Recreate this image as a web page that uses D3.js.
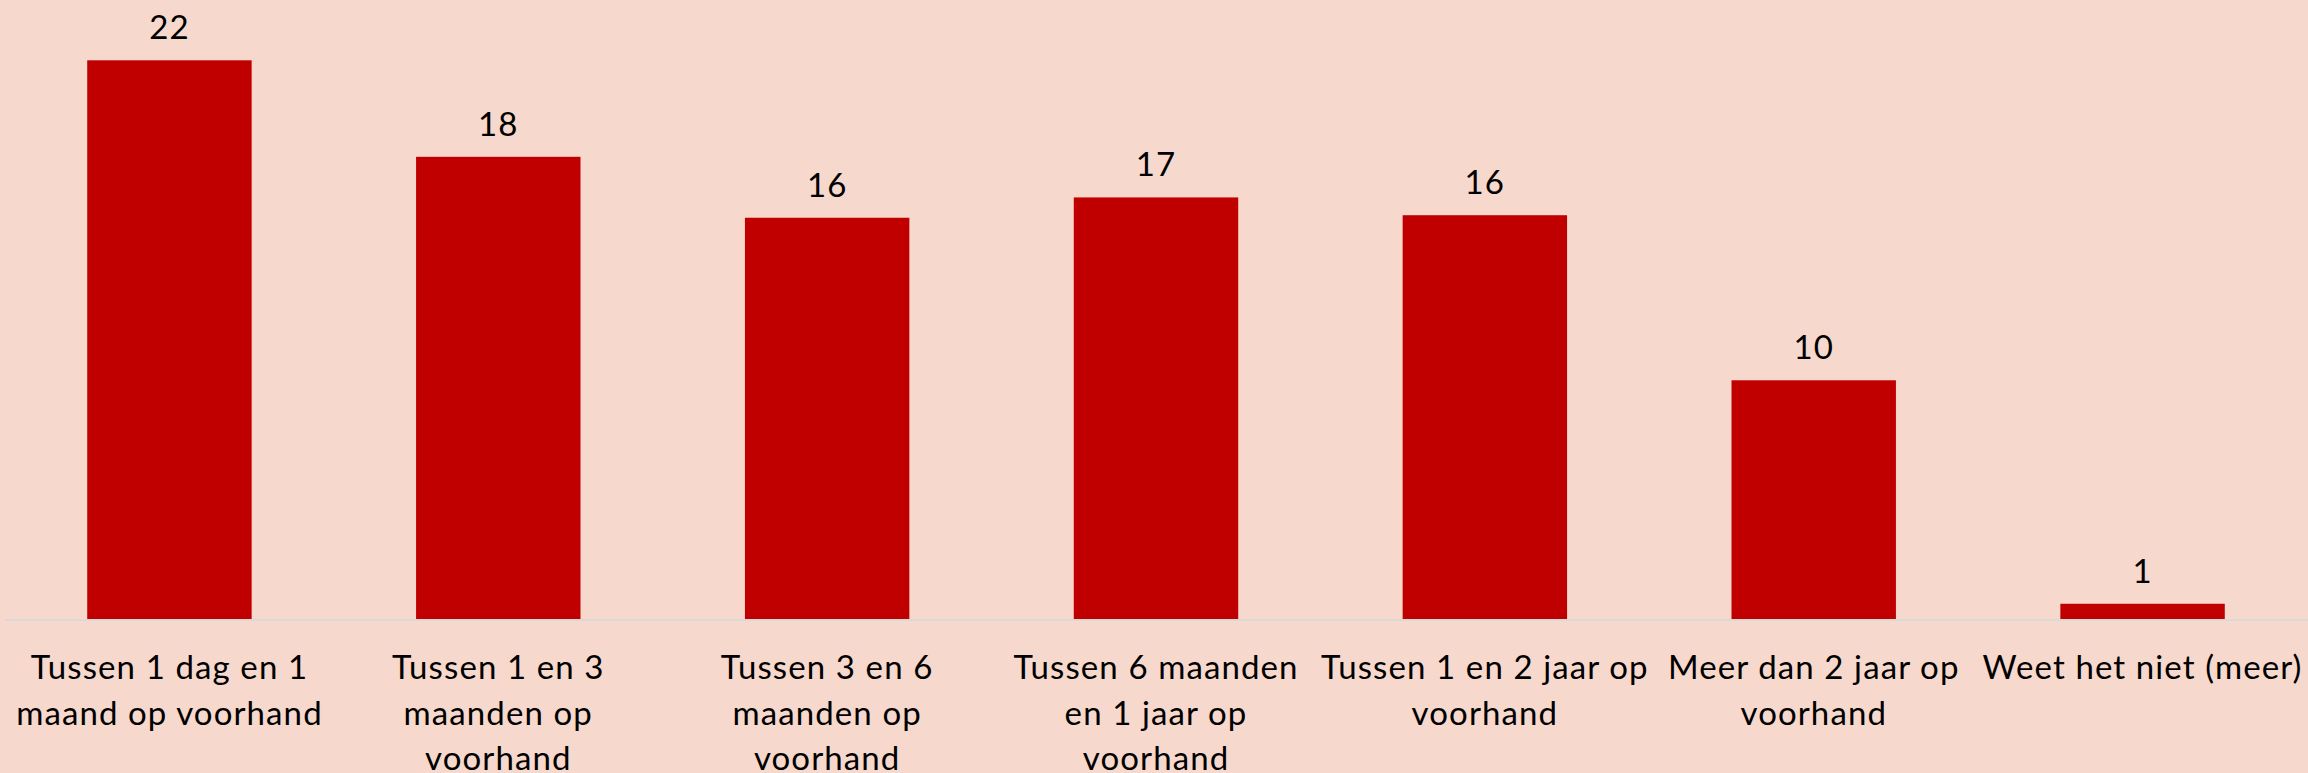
<!DOCTYPE html>
<html>
<head>
<meta charset="utf-8">
<script src="https://cdn.jsdelivr.net/npm/d3@7"></script>
<style>
  html, body { margin: 0; padding: 0; background: #f7d8cc; }
  svg { display: block; }
  text { font-family: Lato, "Open Sans", sans-serif; fill: #000; letter-spacing: 1.1px; }
</style>
</head>
<body>
<div id="chart"></div>
<script>
  // categories, already broken into the lines the chart shows
  var categories = [
    ['Tussen 1 dag en 1', 'maand op voorhand'],
    ['Tussen 1 en 3', 'maanden op', 'voorhand'],
    ['Tussen 3 en 6', 'maanden op', 'voorhand'],
    ['Tussen 6 maanden', 'en 1 jaar op', 'voorhand'],
    ['Tussen 1 en 2 jaar op', 'voorhand'],
    ['Meer dan 2 jaar op', 'voorhand'],
    ['Weet het niet (meer)']
  ];
  var values = [22, 18.2, 15.8, 16.6, 15.9, 9.4, 0.6];
  var valueLabels = ['22', '18', '16', '17', '16', '10', '1'];

  var width = 2308
    , height = 773
    , baseline = 619
    , fontSize = 33
    , lineGap = 45.7;

  var x = d3.scaleBand()
    .domain(d3.range(categories.length))
    .range([5, width - 1])
    .paddingInner(0.5)
    .paddingOuter(0.25);

  var y = d3.scaleLinear()
    .domain([0, 22])
    .range([baseline, 60.3]);

  var svg = d3.select('#chart').append('svg')
    .attr('width', width)
    .attr('height', height);

  svg.append('rect')
    .attr('width', width)
    .attr('height', height)
    .attr('fill', '#f7d8cc');

  svg.append('g')
    .attr('class', 'bars')
    .selectAll('rect')
    .data(values)
    .join('rect')
      .attr('x', function(d, i) { return x(i); })
      .attr('y', function(d) { return y(d); })
      .attr('width', x.bandwidth())
      .attr('height', function(d) { return y(0) - y(d); })
      .attr('fill', '#c00000');

  // category axis: only the baseline and the wrapped labels
  var axis = d3.axisBottom(x)
    .tickSize(0)
    .tickFormat('');

  var gx = svg.append('g')
    .attr('transform', 'translate(0,' + (baseline + 1) + ')')
    .call(axis);

  gx.select('.domain')
    .attr('d', 'M5,0H' + width)
    .attr('stroke', '#d9d9d9')
    .attr('stroke-width', 2);

  gx.selectAll('.tick text').remove();
  gx.selectAll('.tick').each(function(i) {
    var t = d3.select(this).append('text')
      .attr('text-anchor', 'middle')
      .attr('font-size', fontSize)
      .attr('fill', '#000');
    categories[i].forEach(function(line, k) {
      t.append('tspan')
        .attr('x', 0)
        .attr('y', 59 + k * lineGap)
        .text(line);
    });
  });

  svg.append('g')
    .attr('class', 'labels')
    .selectAll('text')
    .data(values)
    .join('text')
      .attr('x', function(d, i) { return x(i) + x.bandwidth() / 2; })
      .attr('y', function(d) { return y(d) - 21; })
      .attr('text-anchor', 'middle')
      .attr('font-size', fontSize)
      .text(function(d, i) { return valueLabels[i]; });
</script>
</body>
</html>
